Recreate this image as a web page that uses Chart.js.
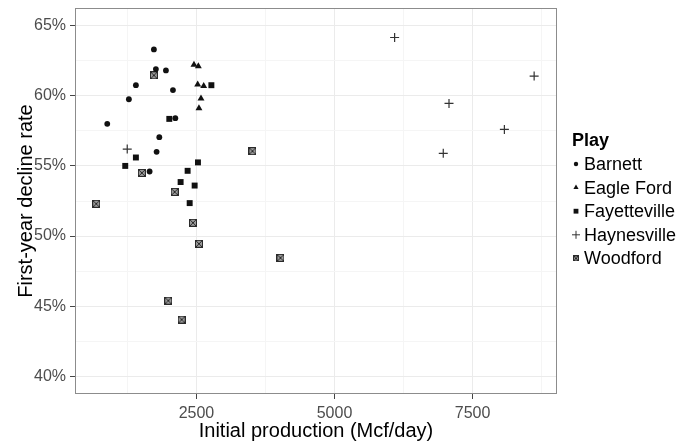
<!DOCTYPE html>
<html>
<head>
<meta charset="utf-8">
<script src="https://cdn.jsdelivr.net/npm/chart.js@4"></script>
<style>
  html, body { margin: 0; padding: 0; background: #fff; }
</style>
</head>
<body>
<canvas id="myChart" width="686" height="441"></canvas>
<script>
// Data
const plays = ['Barnett', 'Eagle Ford', 'Fayetteville', 'Haynesville', 'Woodford'];

const barnettX = [1729, 1765, 1947, 1403, 2074, 1276, 884, 2117, 1827, 1778, 1651];
const barnettY = [63.3, 61.9, 61.8, 60.75, 60.4, 59.75, 58.0, 58.4, 57.05, 56.0, 54.6];

const eagleFordX = [2455, 2534, 2522, 2631, 2582, 2545];
const eagleFordY = [62.2, 62.1, 60.8, 60.7, 59.8, 59.1];

const fayettevilleX = [2770, 2008, 1403, 1210, 2527, 2340, 2213, 2467, 2377];
const fayettevilleY = [60.75, 58.35, 55.6, 55.0, 55.25, 54.65, 53.85, 53.6, 52.35];

const haynesvilleX = [6089, 8616, 7074, 8077, 6970, 1246];
const haynesvilleY = [64.15, 61.4, 59.45, 57.6, 55.9, 56.2];

const woodfordX = [1729, 1511, 2105, 684, 2437, 2545, 3514, 4022, 1990, 2232];
const woodfordY = [61.45, 54.5, 53.15, 52.3, 50.95, 49.45, 56.05, 48.45, 45.4, 44.05];

const xTicks = [2500, 5000, 7500];
const xMinor = [1250, 3750, 6250, 8750];
const yTicks = [40, 45, 50, 55, 60, 65];
const yMinor = [42.5, 47.5, 52.5, 57.5, 62.5];

const FONT = "'Liberation Sans', Arial, Helvetica, sans-serif";

function toPoints(xs, ys) {
    return xs.map((x, i) => ({ x: x, y: ys[i] }));
}

// boxed X marker for Woodford (ggplot shape 7)
function boxedCross(n) {
    const c = document.createElement('canvas');
    c.width = n; c.height = n;
    const g = c.getContext('2d');
    g.fillStyle = '#9a9a9a';
    g.fillRect(0, 0, n, n);
    g.strokeStyle = '#2a2a2a';
    g.lineWidth = 1;
    g.strokeRect(0.5, 0.5, n - 1, n - 1);
    g.beginPath();
    g.moveTo(1, 1); g.lineTo(n - 1, n - 1);
    g.moveTo(n - 1, 1); g.lineTo(1, n - 1);
    g.stroke();
    return c;
}

function setTicks(major, minor) {
    return function(scale) {
        scale.ticks = major.concat(minor).sort((a, b) => a - b).map(v => ({ value: v }));
    };
}

const panelBorder = {
    id: 'panelBorder',
    afterDatasetsDraw(chart) {
        const a = chart.chartArea;
        const ctx = chart.ctx;
        ctx.save();
        ctx.strokeStyle = '#8c8c8c';
        ctx.lineWidth = 1;
        ctx.strokeRect(a.left + 0.5, a.top + 0.5, a.right - a.left - 1, a.bottom - a.top - 1);
        ctx.restore();
    }
};

// ggplot-style legend to the right of the panel
const legendSymbols = [
    { pointStyle: 'circle', radius: 2.2, borderWidth: 0 },
    { pointStyle: 'triangle', radius: 3, borderWidth: 0 },
    { pointStyle: 'rect', radius: 3.4, borderWidth: 0 },
    { pointStyle: 'cross', radius: 4, borderWidth: 1 },
    { pointStyle: boxedCross(6), radius: 3, borderWidth: 0 }
];
const playLegend = {
    id: 'playLegend',
    afterDraw(chart) {
        const ctx = chart.ctx;
        const a = chart.chartArea;
        const x0 = a.right + 15;
        ctx.save();
        ctx.textBaseline = 'middle';
        ctx.textAlign = 'left';
        ctx.fillStyle = '#000';
        ctx.font = 'bold 18px ' + FONT;
        ctx.fillText('Play', x0, 141);
        ctx.font = '18px ' + FONT;
        chart.data.datasets.forEach((ds, i) => {
            const y = 164 + i * 23.6;
            const sym = legendSymbols[i];
            ctx.fillStyle = ds.backgroundColor;
            ctx.strokeStyle = ds.borderColor;
            ctx.lineWidth = sym.borderWidth;
            Chart.helpers.drawPoint(ctx, { pointStyle: sym.pointStyle, radius: sym.radius, rotation: 0, borderWidth: sym.borderWidth }, x0 + 4, y);
            ctx.fillStyle = '#000';
            ctx.fillText(ds.label, x0 + 12, y + 1);
        });
        ctx.restore();
    }
};

function gridColor(minor) {
    return ctx => (ctx.tick && minor.includes(ctx.tick.value)) ? '#f5f5f5' : '#ebebeb';
}
function tickColor(minor) {
    return ctx => (ctx.tick && minor.includes(ctx.tick.value)) ? 'rgba(0,0,0,0)' : '#444';
}

const ctx = document.getElementById('myChart').getContext('2d');
new Chart(ctx, {
    type: 'scatter',
    data: {
        datasets: [
            { label: plays[0], data: toPoints(barnettX, barnettY), pointStyle: 'circle', pointRadius: 2.9,
              backgroundColor: '#111', borderColor: '#111', borderWidth: 0 },
            { label: plays[1], data: toPoints(eagleFordX, eagleFordY), pointStyle: 'triangle', pointRadius: 4,
              backgroundColor: '#111', borderColor: '#111', borderWidth: 0 },
            { label: plays[2], data: toPoints(fayettevilleX, fayettevilleY), pointStyle: 'rect', pointRadius: 4.2,
              backgroundColor: '#111', borderColor: '#111', borderWidth: 0 },
            { label: plays[3], data: toPoints(haynesvilleX, haynesvilleY), pointStyle: 'cross', pointRadius: 4.5,
              backgroundColor: '#333', borderColor: '#333', borderWidth: 1.2 },
            { label: plays[4], data: toPoints(woodfordX, woodfordY), pointStyle: boxedCross(8), pointRadius: 4,
              backgroundColor: '#555', borderColor: '#333', borderWidth: 1 }
        ]
    },
    options: {
        responsive: false,
        animation: false,
        layout: { padding: { top: 8, left: 0, right: 129, bottom: 0 } },
        plugins: {
            tooltip: { enabled: false },
            legend: { display: false }
        },
        scales: {
            x: {
                type: 'linear',
                min: 300,
                max: 9030,
                afterBuildTicks: setTicks(xTicks, xMinor),
                afterFit: s => { s.height = 47; s.paddingLeft = 0; s.paddingRight = 0; },
                border: { display: false },
                grid: { color: gridColor(xMinor), tickColor: tickColor(xMinor), tickLength: 5 },
                ticks: {
                    padding: 5,
                    color: '#4d4d4d',
                    font: { family: FONT, size: 16 },
                    callback: v => xTicks.includes(v) ? String(v) : ''
                },
                title: {
                    display: true,
                    text: 'Initial production (Mcf/day)',
                    color: '#000',
                    font: { family: FONT, size: 20 },
                    padding: { top: 0, bottom: -2 }
                }
            },
            y: {
                type: 'linear',
                min: 38.75,
                max: 66.25,
                afterBuildTicks: setTicks(yTicks, yMinor),
                afterFit: s => { s.width = 75; s.paddingTop = 0; s.paddingBottom = 0; },
                border: { display: false },
                grid: { color: gridColor(yMinor), tickColor: tickColor(yMinor), tickLength: 5 },
                ticks: {
                    padding: 4,
                    color: '#4d4d4d',
                    font: { family: FONT, size: 16 },
                    callback: v => yTicks.includes(v) ? v + '%' : ''
                },
                title: {
                    display: true,
                    text: 'First-year decline rate',
                    color: '#000',
                    font: { family: FONT, size: 20 },
                    padding: { top: 14, bottom: 0 }
                }
            }
        }
    },
    plugins: [panelBorder, playLegend]
});
</script>
</body>
</html>
